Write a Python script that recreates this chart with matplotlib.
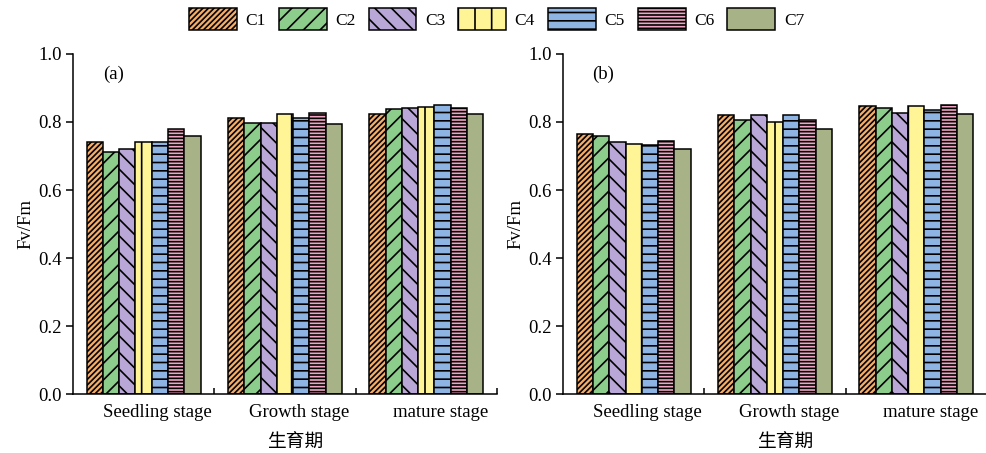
import numpy as np
import matplotlib
matplotlib.use("Agg")
import matplotlib.pyplot as plt
from matplotlib.transforms import ScaledTranslation

plt.rcParams['font.family'] = ['Liberation Serif', 'Noto Sans CJK SC']
plt.rcParams['hatch.linewidth'] = 1.2

stages = ['Seedling stage', 'Growth stage', 'mature stage']
series = ['C1', 'C2', 'C3', 'C4', 'C5', 'C6', 'C7']

# Fv/Fm, one row per treatment C1..C7, columns = stages
fvfm_a = [
    [0.740, 0.813, 0.823],
    [0.713, 0.796, 0.839],
    [0.720, 0.796, 0.842],
    [0.742, 0.823, 0.843],
    [0.742, 0.811, 0.851],
    [0.778, 0.827, 0.842],
    [0.759, 0.795, 0.824],
]
fvfm_b = [
    [0.766, 0.819, 0.846],
    [0.760, 0.806, 0.842],
    [0.742, 0.819, 0.827],
    [0.734, 0.801, 0.846],
    [0.732, 0.819, 0.836],
    [0.744, 0.806, 0.849],
    [0.720, 0.779, 0.823],
]

colors = ['#F5AC68', '#8CCD8C', '#B9A8D7', '#FFF596', '#8DB4E2', '#F0A5C3', '#A8B287']
hatches = ['//////', '//', '\\\\', '|', '--', '-----', '']

fig = plt.figure(figsize=(9.86, 4.53), dpi=100)
ax_a = fig.add_axes([0.074, 0.1296, 0.430, 0.7515])
ax_b = fig.add_axes([0.571, 0.1296, 0.430, 0.7515])

x = np.arange(len(stages))
w = 0.1153
shift = ScaledTranslation(14 / 100, 0, fig.dpi_scale_trans)

for ax, data, tag in [(ax_a, fvfm_a, '(a)'), (ax_b, fvfm_b, '(b)')]:
    for i, name in enumerate(series):
        ax.bar(x + (i - 3) * w, data[i], width=w, color=colors[i],
               hatch=hatches[i], edgecolor='black', linewidth=1.1, label=name)
    ax.set_xlim(-0.5, 2.5)
    ax.set_ylim(0, 1.0)
    ax.set_yticks(np.arange(0, 1.01, 0.2))
    ax.set_yticklabels(['0.0', '0.2', '0.4', '0.6', '0.8', '1.0'])
    ax.set_xticks([0.5, 1.5, 2.5])
    ax.set_xticklabels([])
    ax.tick_params(axis='x', which='major', direction='in', length=4, width=1.1)
    ax.set_xticks(x, minor=True)
    ax.set_xticklabels(stages, minor=True, fontsize=13.5)
    ax.tick_params(axis='x', which='minor', length=0, pad=7)
    for lbl in ax.get_xticklabels(minor=True):
        lbl.set_transform(lbl.get_transform() + shift)
    ax.tick_params(axis='y', direction='out', length=5, width=1.1, labelsize=13.5, pad=3)
    for s in ['top', 'right']:
        ax.spines[s].set_visible(False)
    for s in ['left', 'bottom']:
        ax.spines[s].set_linewidth(1.1)
    ax.set_ylabel('Fv/Fm', fontsize=13.5, labelpad=3)
    ax.set_xlabel('生育期', fontsize=13.5, family=['Noto Sans CJK SC'])
    ax.xaxis.set_label_coords(0.524, -0.108)
    ax.text(0.095, 0.94, tag, transform=ax.transAxes, fontsize=13.5,
            ha='center', va='center')

handles, labels = ax_a.get_legend_handles_labels()
fig.legend(handles, labels, loc='center', bbox_to_anchor=(0.5036, 0.958), ncol=7,
           frameon=False, fontsize=12.5, handlelength=2.75, handleheight=1.5,
           handletextpad=0.5, columnspacing=0.75)

fig.savefig('out.png', dpi=100)
